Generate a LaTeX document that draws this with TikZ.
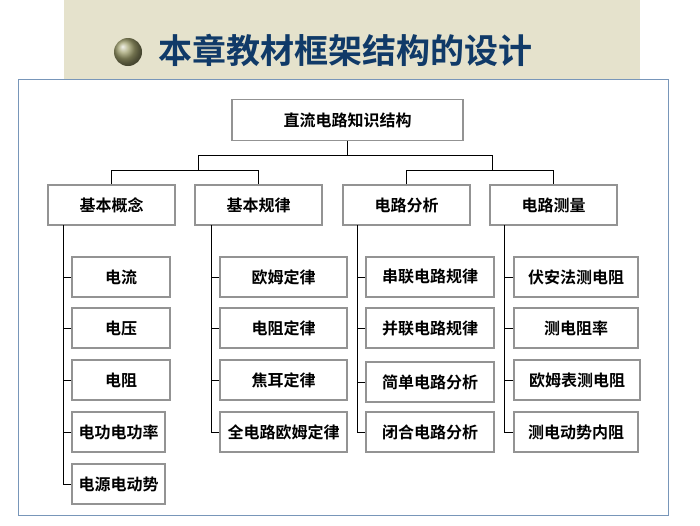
\documentclass[tikz,border=0pt]{standalone}
\usepackage{fontspec}
\setmainfont{Noto Sans CJK SC}[BoldFont={* Bold}]
\newfontfamily\cjkb{Noto Sans CJK SC Bold}
\begin{document}
\begin{tikzpicture}[x=1pt,y=-1pt,
  box/.style={draw=gray!85,line width=1.3pt,fill=white,inner sep=0pt,font=\cjkb\fontsize{16}{16}\selectfont},
  ln/.style={draw=black,line width=0.8pt}]
\useasboundingbox (0,0) rectangle (700,525);
\fill[white] (0,0) rectangle (700,525);
\fill[fill={rgb,255:red,229;green,226;blue,204}] (64,0) rectangle (640,80);
\shade[ball color={rgb,255:red,160;green,160;blue,110}] (128,52) circle (14);
\node[font=\cjkb\fontsize{34}{34}\selectfont,text={rgb,255:red,16;green,58;blue,104},anchor=west,inner sep=0pt] (title) at (158,50) {本章教材框架结构的设计};
\draw[draw={rgb,255:red,120;green,150;blue,185},line width=1pt,fill=white] (18,79) rectangle (668,515);
\node[box,minimum width=231,minimum height=41] (root) at (347.5,120) {直流电路知识结构};
\node[box,minimum width=127,minimum height=40] (a) at (111.5,205) {基本概念};
\node[box,minimum width=127,minimum height=40] (b) at (258.5,205) {基本规律};
\node[box,minimum width=127,minimum height=40] (c) at (406.5,205) {电路分析};
\node[box,minimum width=127,minimum height=40] (d) at (553.5,205) {电路测量};
\coordinate (h1) at (198,155); \coordinate (h2) at (492,155);
\draw[ln] (root.south) -- (347.5,155);
\draw[ln] (198,170) -- (h1) -- (h2) -- (492,170);
\draw[ln] (a.north) -- (111.5,170) -- (258.5,170) -- (b.north);
\draw[ln] (c.north) -- (406.5,170) -- (553.5,170) -- (d.north);
% column 1
\node[box,minimum width=98,minimum height=40] (a1) at (121,277) {电流};
\node[box,minimum width=98,minimum height=40] (a2) at (121,328) {电压};
\node[box,minimum width=98,minimum height=40] (a3) at (121,380) {电阻};
\node[box,minimum width=93,minimum height=40] (a4) at (118.5,432) {电功电功率};
\node[box,minimum width=93,minimum height=40] (a5) at (118.5,484) {电源电动势};
\draw[ln] (63,225) -- (63,484) -- (a5.west);
\foreach \n in {a1,a2,a3,a4} \draw[ln] (\n.west) -- (63,0 |- \n.west);
% column 2
\node[box,minimum width=127,minimum height=40] (b1) at (283.5,277) {欧姆定律};
\node[box,minimum width=127,minimum height=40] (b2) at (283.5,328) {电阻定律};
\node[box,minimum width=127,minimum height=40] (b3) at (283.5,380) {焦耳定律};
\node[box,minimum width=127,minimum height=40] (b4) at (283.5,432) {全电路欧姆定律};
\draw[ln] (211,225) -- (211,432) -- (b4.west);
\foreach \n in {b1,b2,b3} \draw[ln] (\n.west) -- (211,0 |- \n.west);
% column 3
\node[box,minimum width=128,minimum height=40] (c1) at (430,277) {串联电路规律};
\node[box,minimum width=128,minimum height=40] (c2) at (430,328) {并联电路规律};
\node[box,minimum width=128,minimum height=40] (c3) at (430,382) {简单电路分析};
\node[box,minimum width=128,minimum height=40] (c4) at (430,432) {闭合电路分析};
\draw[ln] (357,225) -- (357,432) -- (c4.west);
\foreach \n in {c1,c2,c3} \draw[ln] (\n.west) -- (357,0 |- \n.west);
% column 4
\node[box,minimum width=124,minimum height=40] (d1) at (576,277) {伏安法测电阻};
\node[box,minimum width=124,minimum height=40] (d2) at (576,328) {测电阻率};
\node[box,minimum width=126,minimum height=40] (d3) at (577,380) {欧姆表测电阻};
\node[box,minimum width=124,minimum height=40] (d4) at (576,432) {测电动势内阻};
\draw[ln] (504,225) -- (504,432) -- (d4.west);
\foreach \n in {d1,d2,d3} \draw[ln] (\n.west) -- (504,0 |- \n.west);
\end{tikzpicture}
\end{document}
